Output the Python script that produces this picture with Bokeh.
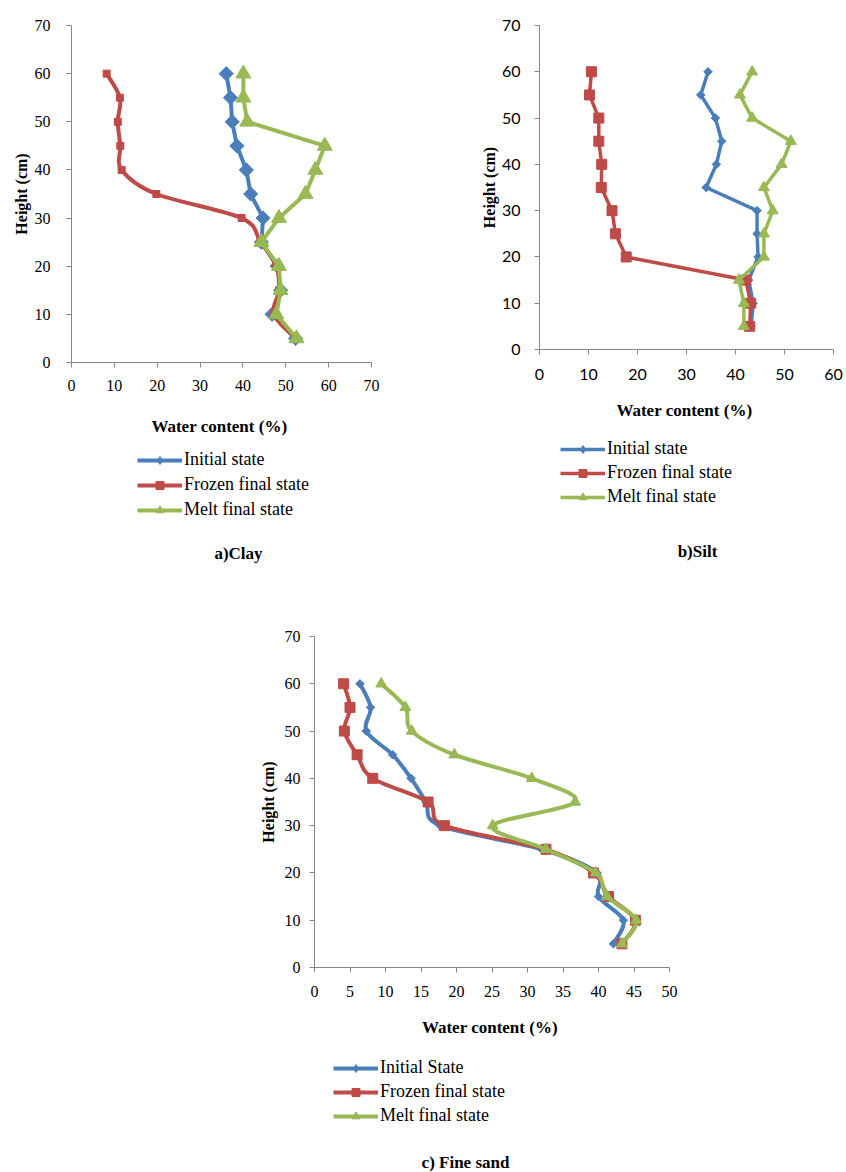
import numpy as np
from bokeh.plotting import figure
from bokeh.models import Range1d, Legend, LegendItem, Label, Spacer, FixedTicker
from bokeh.layouts import row, column
from bokeh.embed import file_html
from bokeh.resources import INLINE

# ---------------- data ----------------
heights = [60, 55, 50, 45, 40, 35, 30, 25, 20, 15, 10, 5]

clay_initial = [36.1, 37.1, 37.5, 38.6, 40.8, 41.8, 44.7, 44.3, 48.0, 48.8, 46.8, 52.3]
clay_frozen = [8.2, 11.3, 10.8, 11.4, 11.7, 19.8, 39.7, 44.1, 47.8, 48.4, 47.2, 52.3]
clay_melt = [40.1, 40.1, 41.0, 59.1, 56.9, 54.6, 48.4, 44.3, 48.4, 48.8, 47.8, 52.5]

silt_initial = [34.4, 32.9, 35.9, 37.2, 36.1, 34.0, 44.4, 44.4, 44.6, 42.7, 43.6, 43.2]
silt_frozen = [10.6, 10.2, 12.1, 12.1, 12.7, 12.6, 14.8, 15.5, 17.7, 42.1, 43.1, 42.9]
silt_melt = [43.4, 40.9, 43.4, 51.3, 49.4, 45.8, 47.6, 45.8, 45.8, 40.7, 41.7, 41.7]

sand_initial = [6.4, 7.9, 7.3, 11.0, 13.6, 15.7, 17.7, 32.0, 39.8, 40.0, 43.5, 42.1]
sand_frozen = [4.1, 5.0, 4.2, 6.0, 8.2, 16.0, 18.3, 32.6, 39.3, 41.4, 45.2, 43.3]
sand_melt = [9.4, 12.8, 13.7, 19.7, 30.6, 36.7, 25.1, 32.6, 39.6, 41.2, 45.3, 43.3]

y_ticks = [0, 10, 20, 30, 40, 50, 60, 70]
x_ticks_clay = [0, 10, 20, 30, 40, 50, 60, 70]
x_ticks_silt = [0, 10, 20, 30, 40, 50, 60]
x_ticks_sand = [0, 5, 10, 15, 20, 25, 30, 35, 40, 45, 50]

labels_ab = ["Initial state", "Frozen final state", "Melt final state"]
labels_c = ["Initial State", "Frozen final state", "Melt final state"]

BLUE = "#4A7EBB"
RED = "#BE4B48"
GREEN = "#98B954"
SERIF = "Liberation Serif"
AXIS_GREY = "#868686"


def smooth_segments(xs, ys):
    """Bezier control points (Catmull-Rom style) through the data points."""
    xs = np.asarray(xs, float)
    ys = np.asarray(ys, float)
    n = len(xs)
    d = dict(x0=[], y0=[], x1=[], y1=[], cx0=[], cy0=[], cx1=[], cy1=[])
    for i in range(n - 1):
        p0 = i - 1 if i > 0 else i
        p3 = i + 2 if i + 2 < n else i + 1
        d["x0"].append(xs[i]); d["y0"].append(ys[i])
        d["x1"].append(xs[i + 1]); d["y1"].append(ys[i + 1])
        d["cx0"].append(xs[i] + (xs[i + 1] - xs[p0]) / 6.0)
        d["cy0"].append(ys[i] + (ys[i + 1] - ys[p0]) / 6.0)
        d["cx1"].append(xs[i + 1] - (xs[p3] - xs[i]) / 6.0)
        d["cy1"].append(ys[i + 1] - (ys[p3] - ys[i]) / 6.0)
    return d


def make_panel(width, height, mb_left, mb_right, mb_top, mb_bottom, xmax, xticks,
               tick_font, ylab_standoff, ytick_standoff, xtick_standoff, xlab_standoff):
    p = figure(width=width, height=height, output_backend="svg", toolbar_location=None,
               x_range=Range1d(0, xmax), y_range=Range1d(0, 70),
               min_border_left=mb_left, min_border_right=mb_right,
               min_border_top=mb_top, min_border_bottom=mb_bottom)
    p.outline_line_color = None
    p.grid.visible = False
    p.xaxis.ticker = FixedTicker(ticks=xticks)
    p.yaxis.ticker = FixedTicker(ticks=y_ticks)
    for ax in (p.xaxis, p.yaxis):
        ax.axis_line_color = AXIS_GREY
        ax.major_tick_line_color = AXIS_GREY
        ax.major_tick_out = 5
        ax.major_tick_in = 0
        ax.minor_tick_line_color = None
        ax.major_label_text_font = tick_font
        ax.major_label_text_font_size = "16px"
        ax.major_label_text_color = "black"
        ax.axis_label_text_font = SERIF
        ax.axis_label_text_font_style = "bold"
        ax.axis_label_text_color = "black"
    p.xaxis.axis_label = "Water content  (%)"
    p.xaxis.axis_label_text_font_size = "17px"
    p.yaxis.axis_label = "Height (cm)"
    p.yaxis.axis_label_text_font_size = "16px"
    p.yaxis.axis_label_standoff = ylab_standoff
    p.yaxis.major_label_standoff = ytick_standoff
    p.xaxis.major_label_standoff = xtick_standoff
    p.xaxis.axis_label_standoff = xlab_standoff
    return p


def add_series(p, xs, color, lw, marker, msize, smooth, angle=0.0):
    if smooth:
        seg = smooth_segments(xs, heights)
        p.bezier(x0=seg["x0"], y0=seg["y0"], x1=seg["x1"], y1=seg["y1"],
                 cx0=seg["cx0"], cy0=seg["cy0"], cx1=seg["cx1"], cy1=seg["cy1"],
                 line_color=color, line_width=lw)
    else:
        p.line(x=xs, y=heights, line_color=color, line_width=lw, line_join="round")
    p.scatter(x=xs, y=heights, marker=marker, size=msize, angle=angle,
              fill_color=color, line_color=color)


def legend_fig(width, height, mb_left, mb_right, labels, styles, loc, spacing,
               caption, cap_x, cap_y):
    # x data units equal pixels measured from this figure's left edge
    f = figure(width=width, height=height, output_backend="svg", toolbar_location=None,
               x_range=Range1d(mb_left, width - mb_right), y_range=Range1d(0, height),
               min_border_left=mb_left, min_border_right=mb_right,
               min_border_top=0, min_border_bottom=0)
    f.axis.visible = False
    f.grid.visible = False
    f.outline_line_color = None
    items = []
    for lab, (color, lw, marker) in zip(labels, styles):
        lr = f.line(x=[-9999, -9998], y=[-9999, -9998], line_color=color, line_width=lw)
        sr = f.scatter(x=[-9999], y=[-9999], marker=marker,
                       fill_color=color, line_color=color)
        items.append(LegendItem(label=lab, renderers=[lr, sr], index=0))
    leg = Legend(items=items, location=loc, orientation="vertical",
                 border_line_color=None, background_fill_alpha=0,
                 label_text_font=SERIF, label_text_font_size="18px",
                 label_text_color="black", glyph_width=45, glyph_height=20,
                 label_height=20, label_standoff=2, spacing=spacing, padding=0, margin=0)
    f.add_layout(leg, "center")
    f.add_layout(Label(text=caption, x=cap_x, y=cap_y, text_align="center",
                       text_baseline="middle", text_font=SERIF, text_font_style="bold",
                       text_font_size="17px", text_color="black"))
    return f


# ---------------- panel a: clay ----------------
pa = make_panel(448, 440, 71, 77, 25, 78, 70, x_ticks_clay, SERIF, 2, 16, 12, 23)
add_series(pa, clay_initial, BLUE, 4, "square", 10, False, angle=np.pi / 4)
add_series(pa, clay_frozen, RED, 4, "square", 7, True)
add_series(pa, clay_melt, GREEN, 4, "triangle", 15, False)
la = legend_fig(448, 140, 71, 77, labels_ab,
                [(BLUE, 4, "diamond"), (RED, 4, "square"), (GREEN, 4, "triangle")],
                (66, 60), 4, "a)Clay", 238, 27)

# ---------------- panel b: silt ----------------
pb = make_panel(398, 425, 91, 13, 25, 76, 60, x_ticks_silt, "Lato", 1, 14, 14, 18)
add_series(pb, silt_initial, BLUE, 3.5, "square", 6, False, angle=np.pi / 4)
add_series(pb, silt_frozen, RED, 3.5, "square", 10, False)
add_series(pb, silt_melt, GREEN, 3.5, "triangle", 11, False)
lb = legend_fig(398, 155, 91, 13, labels_ab,
                [(BLUE, 3.5, "diamond"), (RED, 3.5, "square"), (GREEN, 3.5, "triangle")],
                (21, 73), 3, "b)Silt", 249, 29)

# ---------------- panel c: fine sand ----------------
pc = make_panel(455, 465, 60, 40, 56, 78, 50, x_ticks_sand, SERIF, 5, 9, 13, 18)
add_series(pc, sand_initial, BLUE, 4, "square", 6, True, angle=np.pi / 4)
add_series(pc, sand_frozen, RED, 4, "square", 10, True)
add_series(pc, sand_melt, GREEN, 4, "triangle", 11, True)
lc = legend_fig(455, 127, 60, 40, labels_c,
                [(BLUE, 4, "diamond"), (RED, 4, "square"), (GREEN, 4, "triangle")],
                (19, 46), 3, "c) Fine sand", 211, 10)

layout = column(row(column(pa, la), column(pb, lb)),
                row(Spacer(width=254, height=592), column(pc, lc)))

open("out.html", "w").write(file_html(layout, INLINE))
